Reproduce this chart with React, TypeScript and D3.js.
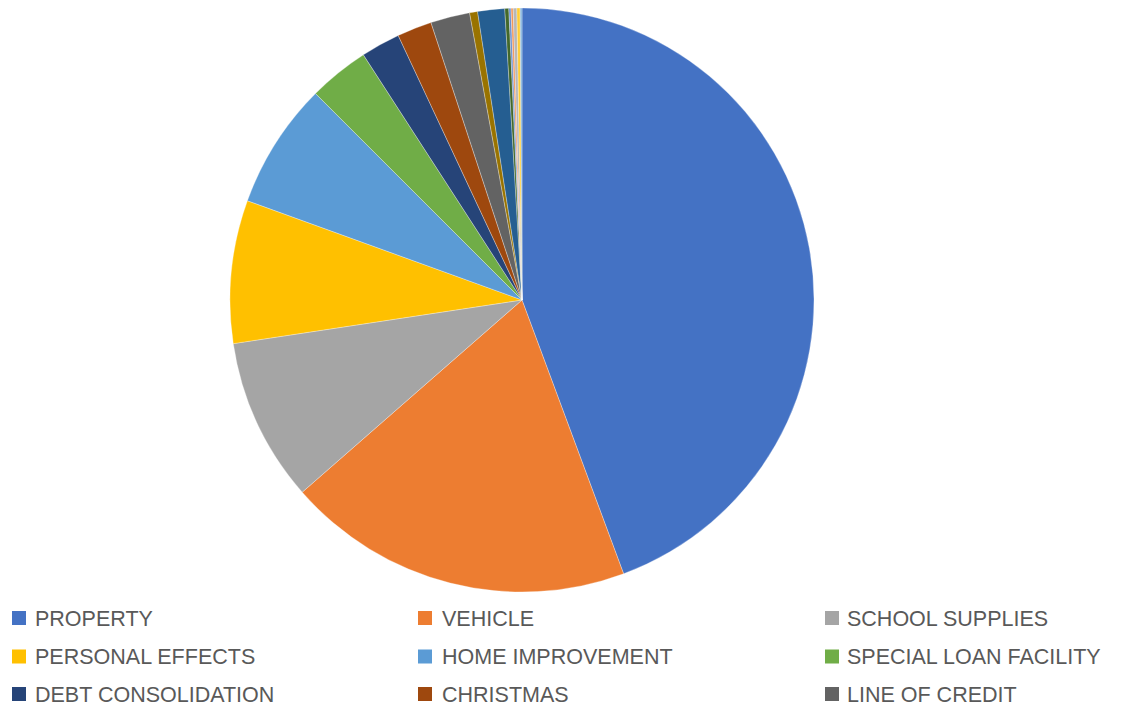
import React from "react";
import * as d3 from "d3";

const legendCategories = [
  "PROPERTY",
  "VEHICLE",
  "SCHOOL SUPPLIES",
  "PERSONAL EFFECTS",
  "HOME IMPROVEMENT",
  "SPECIAL LOAN FACILITY",
  "DEBT CONSOLIDATION",
  "CHRISTMAS",
  "LINE OF CREDIT",
];

// slice values (percent), first nine match the legend; the rest are small unlabeled slices
const sliceValues = [44.3, 19.2, 9.04, 7.9, 6.97, 3.36, 2.17, 1.92, 2.17, 0.44, 1.49, 0.22, 0.12, 0.12, 0.2, 0.18, 0.1];

const sliceColors = [
  "#4472C4", "#ED7D31", "#A5A5A5", "#FFC000", "#5B9BD5", "#70AD47",
  "#264478", "#9E480E", "#636363", "#997300", "#255E91", "#43682B",
  "#698ED0", "#F1975A", "#B7B7B7", "#FFCD33", "#7CAFDD",
];

const W = 1127;
const H = 706;
const CX = 522;
const CY = 300;
const R = 292;

const legendColX = [12, 418, 825];
const legendTextX = [35, 442, 847];
const legendRowY = [618, 656.5, 694];

export default function App() {
  const pie = d3
    .pie<number>()
    .sort(null)
    .value((d) => d)
    .startAngle(0)
    .endAngle(2 * Math.PI);
  const arcs = pie(sliceValues);
  const arc = d3.arc<d3.PieArcDatum<number>>().innerRadius(0).outerRadius(R);

  return (
    <svg
      width={W}
      height={H}
      style={{ position: "absolute", left: 0, top: 0, background: "#fff" }}
    >
      <g transform={`translate(${CX},${CY})`}>
        {arcs.map((a, i) => (
          <path
            key={i}
            d={arc(a) || ""}
            fill={sliceColors[i]}
            stroke="#ffffff"
            strokeWidth={0.5}
            strokeOpacity={0.6}
          />
        ))}
      </g>
      <g fontFamily="'Liberation Sans', Arial, sans-serif" fontSize={21.5} fill="#595959">
        {legendCategories.map((c, i) => {
          const col = i % 3;
          const row = Math.floor(i / 3);
          const y = legendRowY[row];
          return (
            <g key={c}>
              <rect x={legendColX[col]} y={y - 7} width={14} height={14} fill={sliceColors[i]} />
              <text x={legendTextX[col]} y={y + 7.5}>
                {c}
              </text>
            </g>
          );
        })}
      </g>
    </svg>
  );
}
